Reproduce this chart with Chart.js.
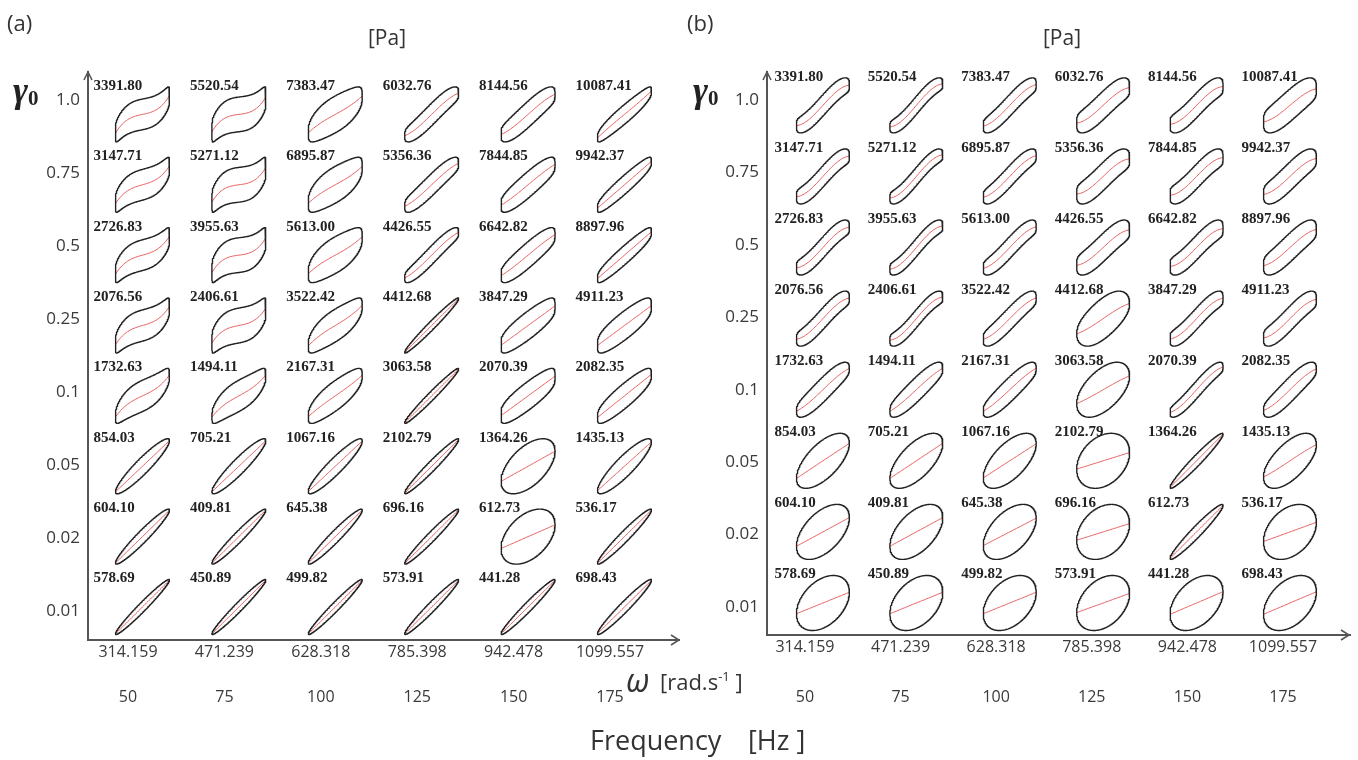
<!DOCTYPE html>
<html>
<head>
<meta charset="utf-8">
<script src="https://cdn.jsdelivr.net/npm/chart.js@4.4.1/dist/chart.umd.min.js"></script>
<style>
  body { margin: 0; background: #fff; width: 1358px; height: 760px; position: relative; overflow: hidden;
         font-family: 'Open Sans', sans-serif; color: #333; }
  canvas { position: absolute; top: 0; }
  #chartA { left: 0; }
  #chartB { left: 680px; }
  .t { position: absolute; white-space: nowrap; line-height: 1; }
  .panel { font-size: 22px; }
  .unit { font-size: 21px; }
  .gamma { font-family: 'Liberation Serif', serif; font-weight: bold; font-style: italic; font-size: 36px; color: #222; }
  .gamma sub { font-style: normal; font-size: 21px; vertical-align: -3px; }
  .omega { font-size: 32px; font-style: italic; }
  .axname { font-size: 22px; }
  .axname sup { font-size: 13px; vertical-align: 9px; }
  .freq { font-size: 27px; }
</style>
</head>
<body>
<canvas id="chartA" width="680" height="760"></canvas>
<canvas id="chartB" width="678" height="760"></canvas>

<div class="t panel" style="left:7px; top:11px;">(a)</div>
<div class="t panel" style="left:687px; top:11px;">(b)</div>
<div class="t unit" style="left:368px; top:27px;">[Pa]</div>
<div class="t unit" style="left:1043px; top:27px;">[Pa]</div>
<div class="t gamma" style="left:13px; top:72px;">γ<sub>0</sub></div>
<div class="t gamma" style="left:693px; top:72px;">γ<sub>0</sub></div>
<div class="t omega" style="left:626px; top:664px;">ω</div>
<div class="t axname" style="left:660px; top:670px;">[rad.s<sup>-1</sup> ]</div>
<div class="t freq" style="left:590px; top:726px;">Frequency</div>
<div class="t freq" style="left:748px; top:726px;">[Hz ]</div>

<script>
const strainTicks = ["0.01", "0.02", "0.05", "0.1", "0.25", "0.5", "0.75", "1.0"];
const omegaTicks = ["314.159", "471.239", "628.318", "785.398", "942.478", "1099.557"];
const freqTicks = ["50", "75", "100", "125", "150", "175"];

// peak stress of every loop [Pa]; rows go from γ0 = 1.0 down to 0.01
const stressMax = [
  [3391.80, 5520.54, 7383.47, 6032.76, 8144.56, 10087.41],
  [3147.71, 5271.12, 6895.87, 5356.36, 7844.85, 9942.37],
  [2726.83, 3955.63, 5613.00, 4426.55, 6642.82, 8897.96],
  [2076.56, 2406.61, 3522.42, 4412.68, 3847.29, 4911.23],
  [1732.63, 1494.11, 2167.31, 3063.58, 2070.39, 2082.35],
  [854.03, 705.21, 1067.16, 2102.79, 1364.26, 1435.13],
  [604.10, 409.81, 645.38, 696.16, 612.73, 536.17],
  [578.69, 450.89, 499.82, 573.91, 441.28, 698.43]
];

// (a) loop shapes: elastic part, viscous part,
// cubic bend of the elastic curve, and squareness of the viscous part
const elasticA = [
  [0.55, 0.50, 0.50, 0.65, 0.60, 0.70],
  [0.55, 0.50, 0.50, 0.65, 0.60, 0.70],
  [0.55, 0.50, 0.50, 0.70, 0.60, 0.70],
  [0.55, 0.50, 0.55, 0.90, 0.60, 0.60],
  [0.60, 0.60, 0.60, 0.90, 0.60, 0.65],
  [0.80, 0.80, 0.80, 0.90, 0.55, 0.85],
  [0.90, 0.92, 0.90, 0.93, 0.43, 0.90],
  [0.95, 0.95, 0.95, 0.95, 0.95, 0.93]
];
const viscousA = [
  [0.45, 0.50, 0.50, 0.35, 0.40, 0.30],
  [0.45, 0.50, 0.50, 0.35, 0.40, 0.30],
  [0.45, 0.50, 0.50, 0.30, 0.40, 0.30],
  [0.45, 0.50, 0.45, 0.18, 0.45, 0.45],
  [0.45, 0.45, 0.45, 0.18, 0.45, 0.40],
  [0.32, 0.32, 0.33, 0.22, 0.84, 0.45],
  [0.27, 0.24, 0.26, 0.22, 0.90, 0.24],
  [0.21, 0.21, 0.21, 0.22, 0.22, 0.24]
];
const bendA = [
  [0.70, 0.80, 0.20, -0.25, -0.20, 0.05],
  [0.60, 0.80, 0.20, -0.20, -0.10, 0.00],
  [0.60, 0.80, 0.20, -0.20, -0.10, 0.00],
  [0.60, 0.70, 0.20, 0.00, 0.00, 0.00],
  [0.40, 0.30, 0.10, 0.00, 0.00, 0.00],
  [0.00, 0.00, 0.00, 0.00, 0.00, 0.00],
  [0.00, 0.00, 0.00, 0.00, 0.00, 0.00],
  [0.00, 0.00, 0.00, 0.00, 0.00, 0.00]
];
const squareA = [
  [0.30, 0.30, 0.60, 0.55, 0.55, 0.55],
  [0.32, 0.30, 0.60, 0.55, 0.55, 0.55],
  [0.32, 0.30, 0.60, 0.55, 0.55, 0.55],
  [0.35, 0.32, 0.62, 0.95, 0.50, 0.55],
  [0.55, 0.60, 0.65, 0.95, 0.50, 0.60],
  [1.00, 1.00, 0.95, 1.00, 1.00, 1.00],
  [1.00, 1.00, 1.00, 1.00, 1.00, 1.00],
  [1.00, 1.00, 1.00, 1.00, 1.00, 1.00]
];

// (b) loop shapes
const elasticB = [
  [0.65, 0.70, 0.65, 0.55, 0.60, 0.50],
  [0.65, 0.70, 0.65, 0.55, 0.60, 0.55],
  [0.65, 0.70, 0.65, 0.55, 0.60, 0.55],
  [0.65, 0.70, 0.65, 0.50, 0.65, 0.60],
  [0.65, 0.65, 0.65, 0.45, 0.75, 0.65],
  [0.64, 0.64, 0.62, 0.30, 0.93, 0.60],
  [0.52, 0.52, 0.50, 0.30, 0.93, 0.35],
  [0.39, 0.39, 0.39, 0.35, 0.41, 0.41]
];
const viscousB = [
  [0.35, 0.30, 0.35, 0.45, 0.40, 0.50],
  [0.35, 0.30, 0.35, 0.45, 0.40, 0.45],
  [0.35, 0.30, 0.35, 0.45, 0.40, 0.45],
  [0.35, 0.30, 0.38, 0.70, 0.35, 0.40],
  [0.40, 0.40, 0.40, 0.75, 0.30, 0.42],
  [0.77, 0.77, 0.78, 0.95, 0.24, 0.80],
  [0.85, 0.85, 0.87, 0.95, 0.26, 0.94],
  [0.92, 0.92, 0.92, 0.94, 0.91, 0.91]
];
const bendB = [
  [-0.45, -0.45, -0.35, -0.40, -0.45, -0.35],
  [-0.45, -0.45, -0.35, -0.45, -0.45, -0.40],
  [-0.45, -0.45, -0.35, -0.40, -0.45, -0.35],
  [-0.40, -0.45, -0.30, -0.20, -0.40, -0.40],
  [-0.20, -0.15, -0.15, -0.10, -0.30, -0.25],
  [0.00, 0.00, 0.00, 0.00, 0.00, -0.10],
  [0.00, 0.00, 0.00, 0.00, 0.00, 0.00],
  [0.00, 0.00, 0.00, 0.00, 0.00, 0.00]
];
const squareB = [
  [0.45, 0.45, 0.50, 0.50, 0.45, 0.55],
  [0.45, 0.45, 0.50, 0.50, 0.45, 0.55],
  [0.45, 0.45, 0.50, 0.50, 0.45, 0.55],
  [0.50, 0.45, 0.55, 0.95, 0.45, 0.50],
  [0.70, 0.70, 0.70, 1.00, 0.55, 0.70],
  [1.00, 1.00, 1.00, 1.00, 1.00, 1.00],
  [1.00, 1.00, 1.00, 1.00, 1.00, 1.00],
  [1.00, 1.00, 1.00, 1.00, 1.00, 1.00]
];

// normalised stress-strain loop: strain u in [-1,1], stress scaled to peak 1
function lissajous(E, V, s, p) {
  const loop = [], elastic = [];
  let peak = 0;
  for (let k = 0; k <= 240; k++) {
    const t = 2 * Math.PI * k / 240;
    const u = Math.sin(t), c = Math.cos(t);
    const el = E * ((1 - s) * u + s * u * u * u);
    const w = el + V * Math.sign(c) * Math.pow(Math.abs(c), p);
    loop.push([u, w]);
    peak = Math.max(peak, Math.abs(w));
  }
  for (let k = 0; k <= 40; k++) {
    const u = -1 + k / 20;
    elastic.push([u, E * ((1 - s) * u + s * u * u * u)]);
  }
  return {
    loop: loop.map(([u, w]) => [u, w / peak]),
    elastic: elastic.map(([u, w]) => [u, w / peak])
  };
}

const loopLabels = {
  id: "loopLabels",
  afterDatasetsDraw(chart, args, opts) {
    const { ctx, scales } = chart;
    ctx.save();
    ctx.font = "bold 15px 'Liberation Serif', serif";
    ctx.fillStyle = "#222";
    ctx.textAlign = "left";
    ctx.textBaseline = "middle";
    opts.cells.forEach((c) => {
      const x = scales.x.getPixelForValue(c.cx - opts.hw) - 22;
      const y = scales.y.getPixelForValue(c.cy + opts.hh) - 1;
      ctx.fillText(c.text, x, y);
    });
    ctx.restore();
  }
};

const axisArrows = {
  id: "axisArrows",
  afterDraw(chart) {
    const { ctx, chartArea: a } = chart;
    ctx.save();
    ctx.strokeStyle = "#555";
    ctx.lineWidth = 1.6;
    ctx.beginPath();
    ctx.moveTo(a.left - 4, a.top + 8);
    ctx.lineTo(a.left, a.top);
    ctx.lineTo(a.left + 4, a.top + 8);
    ctx.moveTo(a.right - 9, a.bottom - 5);
    ctx.lineTo(a.right - 1, a.bottom);
    ctx.lineTo(a.right - 9, a.bottom + 5);
    ctx.stroke();
    ctx.restore();
  }
};

const tickFont = { family: "'Open Sans', sans-serif", size: 16 };

function buildPanel(id, shape, g) {
  const datasets = [];
  const cells = [];
  stressMax.forEach((row, r) => {
    const j = 7 - r;
    row.forEach((tau, i) => {
      const cx = g.dx0 + i * g.kx;
      const cy = g.dy0 + j * g.ky;
      const L = lissajous(shape.E[r][i], shape.V[r][i], shape.s[r][i], shape.p[r][i]);
      datasets.push({
        data: L.loop.map(([u, w]) => ({ x: cx + u * g.hw, y: cy + w * g.hh })),
        borderColor: "#222", borderWidth: 1.4, borderJoinStyle: "round", showLine: true
      });
      datasets.push({
        data: L.elastic.map(([u, w]) => ({ x: cx + u * g.hw, y: cy + w * g.hh })),
        borderColor: "rgba(230,80,80,0.9)", borderWidth: 1, showLine: true
      });
      cells.push({ cx, cy, text: tau.toFixed(2) });
    });
  });

  new Chart(document.getElementById(id), {
    type: "scatter",
    data: { datasets },
    options: {
      responsive: false,
      animation: false,
      events: [],
      elements: { point: { radius: 0 }, line: { tension: 0, fill: false } },
      layout: { padding: { top: 72, left: 0, right: g.padRight, bottom: 0 } },
      plugins: {
        legend: { display: false },
        tooltip: { enabled: false },
        loopLabels: { cells, hw: g.hw, hh: g.hh }
      },
      scales: {
        x: {
          type: "linear", position: "bottom", weight: 0,
          min: g.xMin, max: g.xMax,
          afterBuildTicks: (s) => { s.ticks = omegaTicks.map((_, i) => ({ value: i })); },
          afterFit: (s) => { s.height = g.xH; },
          ticks: { callback: (v, i) => omegaTicks[i], font: tickFont, color: "#3a3a3a",
                   padding: g.xPad, autoSkip: false, maxRotation: 0 },
          grid: { display: false, drawTicks: false },
          border: { display: true, color: "#555", width: 2 }
        },
        x2: {
          type: "linear", axis: "x", position: "bottom", weight: 1,
          min: g.xMin, max: g.xMax,
          afterBuildTicks: (s) => { s.ticks = freqTicks.map((_, i) => ({ value: i })); },
          afterFit: (s) => { s.height = g.x2H; },
          ticks: { callback: (v, i) => freqTicks[i], font: tickFont, color: "#3a3a3a",
                   padding: g.x2Pad, autoSkip: false, maxRotation: 0 },
          grid: { display: false, drawTicks: false },
          border: { display: false }
        },
        y: {
          type: "linear", min: g.yMin, max: g.yMax,
          afterBuildTicks: (s) => { s.ticks = strainTicks.map((_, i) => ({ value: i })); },
          afterFit: (s) => { s.width = g.yW; },
          ticks: { callback: (v, i) => strainTicks[i], font: { family: "'Open Sans', sans-serif", size: 17 },
                   color: "#3a3a3a", padding: 8, autoSkip: false },
          grid: { display: false, drawTicks: false },
          border: { display: true, color: "#555", width: 2 }
        }
      }
    },
    plugins: [loopLabels, axisArrows]
  });
}

buildPanel("chartA",
  { E: elasticA, V: viscousA, s: bendA, p: squareA },
  { xMin: -0.415, xMax: 5.726, yMin: -0.397, yMax: 7.384, dx0: 0.15, kx: 1.0, dy0: 0.055, ky: 0.964,
    hw: 0.28, hh: 0.377, padRight: 0, yW: 88, xH: 40, x2H: 80, xPad: 3, x2Pad: 8 });

buildPanel("chartB",
  { E: elasticB, V: viscousB, s: bendB, p: squareB },
  { xMin: -0.397, xMax: 5.701, yMin: -0.387, yMax: 7.39, dx0: 0.188, kx: 0.977, dy0: 0.055, ky: 0.982,
    hw: 0.277, hh: 0.38, padRight: 8, yW: 87, xH: 40, x2H: 85, xPad: 3, x2Pad: 13 });
</script>
</body>
</html>
